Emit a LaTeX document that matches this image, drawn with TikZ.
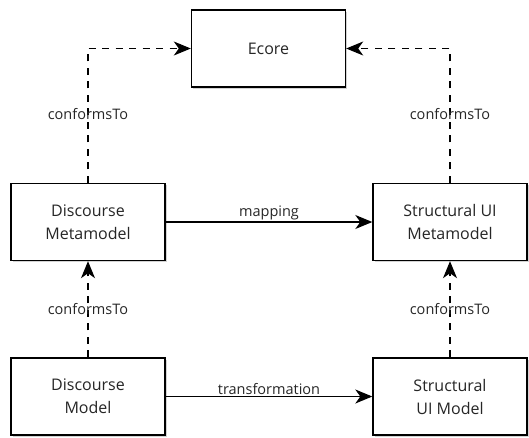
\documentclass[tikz,border=0pt]{standalone}
\usepackage{fontspec}
\setmainfont{Open Sans}
\usetikzlibrary{arrows.meta,shadows}

\begin{document}
\begin{tikzpicture}[x=1pt,y=-1pt,
    model/.style={draw, line width=1.4pt, fill=white, minimum width=154pt,
      minimum height=77pt, align=center, text=black!85,
      font=\fontsize{16}{23}\selectfont,
      drop shadow={shadow xshift=1.5pt, shadow yshift=-1.5pt, opacity=0.35}},
    conf/.style={line width=1.1pt, dash pattern=on 7pt off 6.5pt,
      -{Stealth[length=17pt,width=14pt,inset=5pt]}},
    rel/.style={line width=1.1pt, -{Stealth[length=17pt,width=14pt,inset=5pt]}},
    lbl/.style={text=black!85, font=\fontsize{14.5}{16}\selectfont, inner sep=2pt}]
      % \draw[help lines, gray!50, very thin] (0,0) grid[step=20] (529,437);
      \useasboundingbox (0,0) rectangle (529,437);

      \node[model] (ecore) at (268.5,48.5) {Ecore};
      \node[model] (dmeta) at (88,222) {Discourse\\Metamodel};
      \node[model] (smeta) at (450,222) {Structural UI\\Metamodel};
      \node[model] (dmod) at (88,396.5) {Discourse\\Model};
      \node[model] (smod) at (450,396.5) {Structural\\UI Model};

      \draw[conf] (dmeta.north) |- node[lbl, pos=0.255] {conformsTo} (ecore.west);
      \draw[conf] (smeta.north) |- node[lbl, pos=0.255] {conformsTo} (ecore.east);
      \draw[conf] (dmod) -- node[lbl] {conformsTo} (dmeta);
      \draw[conf] (smod) -- node[lbl] {conformsTo} (smeta);

      \draw[rel] (dmeta) -- node[lbl, above, inner sep=1pt] {mapping} (smeta);
      \draw[rel] (dmod) -- node[lbl, above, inner sep=1pt] {transformation} (smod);
    \end{tikzpicture}
\end{document}
